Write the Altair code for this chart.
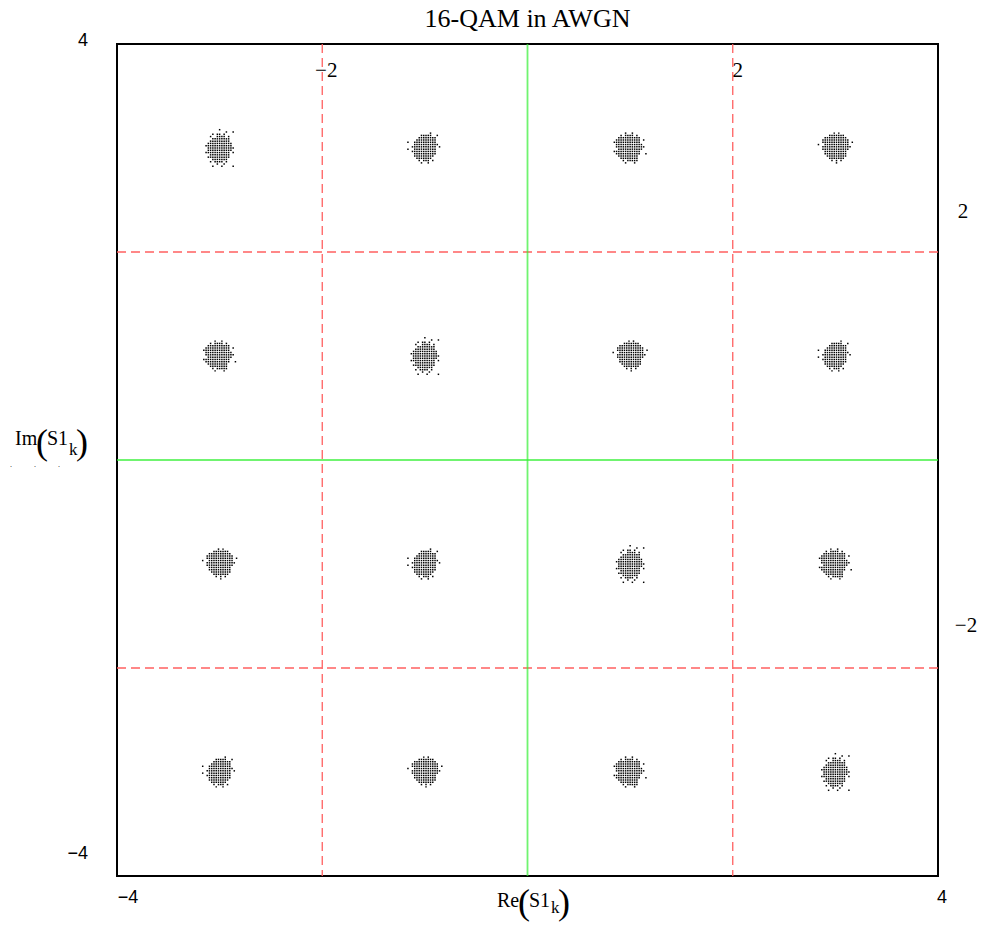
import altair as alt
import pandas as pd

TITLE = "16-QAM in AWGN"
CENTERS_RE = [-3, -1, 1, 3]
CENTERS_IM = [3, 1, -1, -3]
RED_GRID = [-2, 2]
GREEN_GRID = [0]
STEP = 0.022  # spacing of the quantised scatter dots (data units)

# scatter-cloud shapes ('#' = a dot on the 2-px grid)
MASK_A = [
    "........#........",
    "...........#..#..",
    ".....#.##.#......",
    "....#..####.#....",
    ".....########....",
    "....#########....",
    "...###########...",
    "..############...",
    "...############..",
    "...###########...",
    "..###########.#..",
    "....#########....",
    "...##########....",
    ".....#######.....",
    "....#.####.#.....",
    ".......#..#......",
    ".....#...#....#..",
]
MASK_B = [
    "..........#.....",
    "......#####..#..",
    ".....########...",
    "....#########...",
    "#..##########...",
    "...###########..",
    "..###########.#.",
    "#..##########...",
    "..###########...",
    "...##########...",
    "...#########....",
    "....#######.....",
    ".....#.###.#....",
    "......#..#......",
]
MASK_C = [
    "......#..#.......",
    "....#.####.#.....",
    "...##########....",
    "..###########.#..",
    ".############....",
    "..############...",
    "..#############..",
    "...###########...",
    ".############....",
    "..###########..#.",
    "...#########.....",
    "....########.....",
    ".....#.#####.....",
    "......#...#......",
]
MASK_D = [
    ".......#.#......",
    ".....#######....",
    "...##########...",
    "..############..",
    "..############.#",
    "#..###########..",
    "..#############.",
    "..############..",
    "...##########...",
    "...##########...",
    "....#########...",
    ".....#######....",
    "......#.#.#.....",
    "........#.......",
]
MASKS = [MASK_A, MASK_B, MASK_C, MASK_D]
CLUSTER_MASK = [[0, 1, 2, 3], [2, 0, 3, 1], [3, 1, 0, 2], [1, 3, 2, 0]]

rows = []
for i, im in enumerate(CENTERS_IM):
    for j, re in enumerate(CENTERS_RE):
        mask = MASKS[CLUSTER_MASK[i][j]]
        nr = len(mask)
        nc = max(len(r) for r in mask)
        for r, line in enumerate(mask):
            for c, ch in enumerate(line):
                if ch == "#":
                    rows.append({"re": re + (c - (nc - 1) / 2) * STEP,
                                 "im": im + ((nr - 1) / 2 - r) * STEP})
dots = pd.DataFrame(rows)

xs = alt.Scale(domain=[-4, 4], nice=False, zero=False)
ys = alt.Scale(domain=[-4, 4], nice=False, zero=False)

layers = []

red_v = alt.Chart(pd.DataFrame({"v": RED_GRID})).mark_rule(
    color="#ff6060", strokeWidth=1.3, strokeDash=[9, 5]
).encode(x=alt.X("v:Q", scale=xs, axis=None))
red_h = alt.Chart(pd.DataFrame({"v": RED_GRID})).mark_rule(
    color="#ff6060", strokeWidth=1.3, strokeDash=[9, 5]
).encode(y=alt.Y("v:Q", scale=ys, axis=None))
green_v = alt.Chart(pd.DataFrame({"v": GREEN_GRID})).mark_rule(
    color="#33f033", strokeWidth=1.8, opacity=0.7
).encode(x=alt.X("v:Q", scale=xs, axis=None))
green_h = alt.Chart(pd.DataFrame({"v": GREEN_GRID})).mark_rule(
    color="#33f033", strokeWidth=1.8, opacity=0.7
).encode(y=alt.Y("v:Q", scale=ys, axis=None))
layers += [red_v, red_h, green_v, green_h]

pts = alt.Chart(dots).mark_square(size=2.2, color="black", opacity=1, strokeWidth=0).encode(
    x=alt.X("re:Q", scale=xs, axis=None),
    y=alt.Y("im:Q", scale=ys, axis=None),
)
layers.append(pts)

# tick labels: (text, x value, y value, dx, dy, align, font, size)
TICK_LABELS = [
    ("4", -4, 4, -29, 2, "right", "Liberation Sans", 18),
    ("\u22124", -4, -4, -29, -17, "right", "Liberation Sans", 18),
    ("\u22124", -4, -4, 11, 27, "center", "Liberation Sans", 18),
    ("4", 4, -4, 4, 27, "center", "Liberation Sans", 18),
    ("\u22122", -2, 4, 4, 33, "center", "Liberation Serif", 21),
    ("2", 2, 4, 5, 33, "center", "Liberation Serif", 21),
    ("2", 4, 2, 25, -34, "center", "Liberation Serif", 21),
    ("\u22122", 4, -2, 28, -36, "center", "Liberation Serif", 21),
]
for t, xv, yv, dx, dy, al, fnt, sz in TICK_LABELS:
    layers.append(
        alt.Chart(pd.DataFrame({"t": [t], "x": [xv], "y": [yv]})).mark_text(
            font=fnt, fontSize=sz, align=al, baseline="alphabetic", dx=dx, dy=dy, color="black"
        ).encode(
            x=alt.X("x:Q", scale=xs, axis=None),
            y=alt.Y("y:Q", scale=ys, axis=None),
            text="t:N",
        )
    )

# title and axis titles (pixel positions relative to the plot area)
TEXT_PIECES = [
    (TITLE, 410.5, -17, 26, "center"),
    ("Im", -102, 401, 20, "left"),
    ("(", -81, 410, 36, "left"),
    ("S1", -70, 401, 20, "left"),
    ("k", -48, 411, 17, "left"),
    (")", -41, 410, 36, "left"),
    ("Re", 380, 863, 20, "left"),
    ("(", 401, 870, 36, "left"),
    ("S1", 412, 863, 20, "left"),
    ("k", 434, 869, 17, "left"),
    (")", 441, 870, 36, "left"),
    (".", -106, 423, 8, "center"),
    (".", -82, 423, 8, "center"),
    (".", -58, 423, 8, "center"),
]
for t, px, py, sz, al in TEXT_PIECES:
    layers.append(
        alt.Chart(pd.DataFrame({"t": [t]})).mark_text(
            font="Liberation Serif", fontSize=sz, align=al, baseline="alphabetic", color="black"
        ).encode(x=alt.value(px), y=alt.value(py), text="t:N")
    )

chart = alt.layer(*layers).properties(
    width=821,
    height=832,
    padding={"left": 117, "top": 44, "right": 44, "bottom": 51},
    autosize=alt.AutoSizeParams(type="none"),
    background="white",
).configure_view(stroke="black", strokeWidth=2)

chart.save("out.html", embed_options={"renderer": "svg", "actions": False})
